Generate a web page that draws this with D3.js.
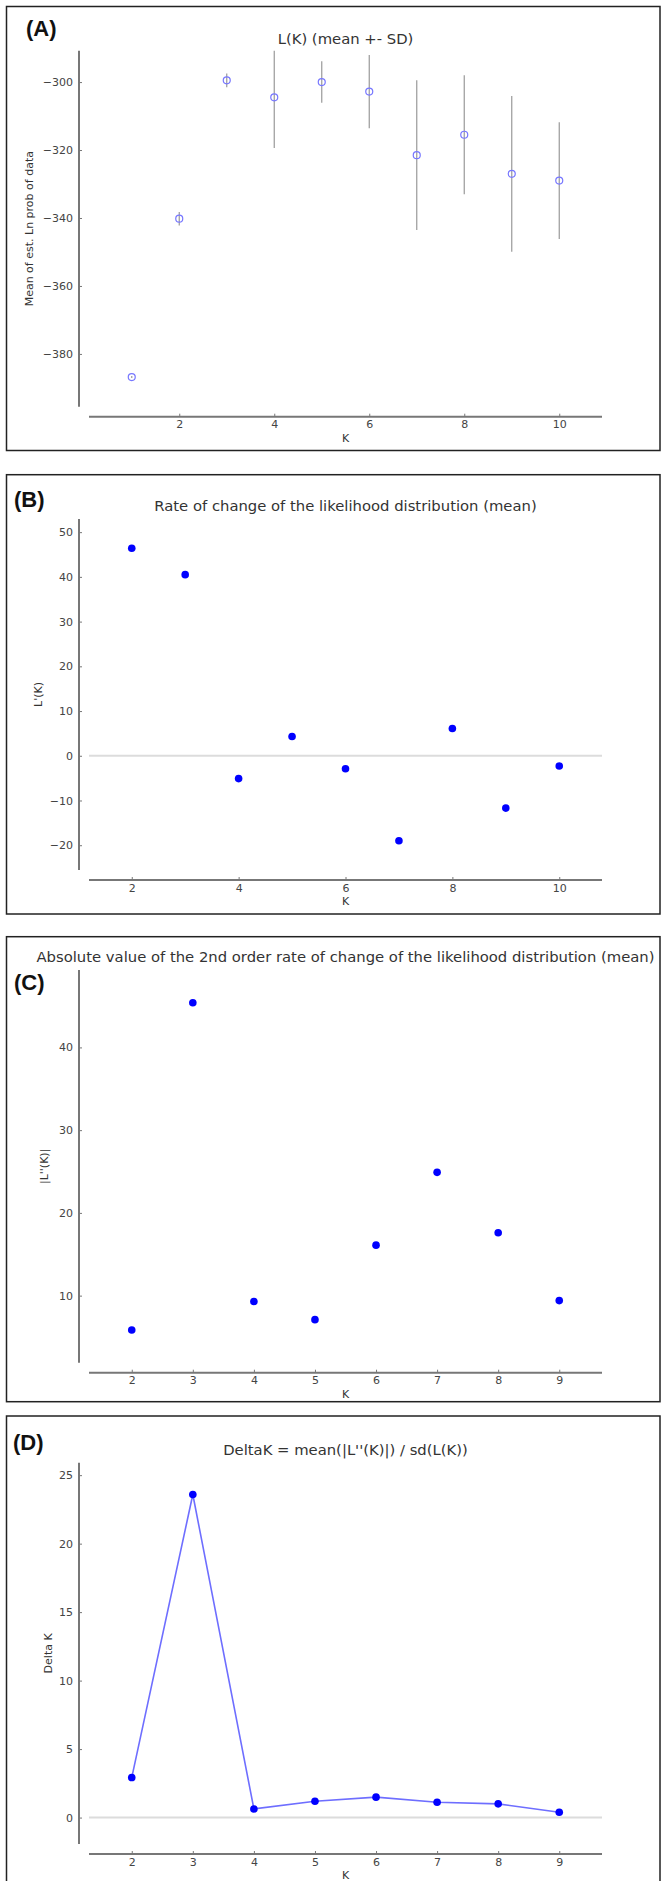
<!DOCTYPE html>
<html>
<head>
<meta charset="utf-8">
<script src="https://d3js.org/d3.v7.min.js"></script>
<style>
  body { margin: 0; background: white; }
  svg text { font-family: "DejaVu Sans", sans-serif; }
</style>
</head>
<body>
<svg id="fig" width="662" height="1881"></svg>
<script>
// ---- data ----
const kA = [1, 2, 3, 4, 5, 6, 7, 8, 9, 10];
const meanLK = [-386.8, -340.2, -299.5, -304.5, -300.0, -302.8, -321.5, -315.5, -327.0, -329.0];
const sdLK = [0.3, 2.0, 2.0, 14.9, 6.1, 10.8, 22.0, 17.5, 22.9, 17.2];

const kB = [2, 3, 4, 5, 6, 7, 8, 9, 10];
const lPrime = [46.4, 40.5, -5.1, 4.3, -2.9, -19.0, 6.1, -11.7, -2.3];

const kC = [2, 3, 4, 5, 6, 7, 8, 9];
const lSecond = [5.85, 45.4, 9.3, 7.1, 16.1, 24.9, 17.6, 9.4];

const kD = [2, 3, 4, 5, 6, 7, 8, 9];
const deltaK = [2.92, 23.59, 0.63, 1.19, 1.49, 1.12, 1.0, 0.39];

const ticksA = [-380, -360, -340, -320, -300];
const ticksB = [-20, -10, 0, 10, 20, 30, 40, 50];
const ticksC = [10, 20, 30, 40];
const ticksD = [0, 5, 10, 15, 20, 25];
const xticksA = [2, 4, 6, 8, 10];
const xticksC = [2, 3, 4, 5, 6, 7, 8, 9];

const svg = d3.select("#fig");

// matplotlib-ish padding: 10% of data range each side
function padded(vals) {
  const lo = d3.min(vals), hi = d3.max(vals), p = (hi - lo) * 0.1;
  return [lo - p, hi + p];
}

function panel(o) {
  const g = svg.append("g");
  // frame
  g.append("rect")
    .attr("x", 6.5).attr("y", o.box[0])
    .attr("width", 653.5).attr("height", o.box[1] - o.box[0])
    .attr("fill", "none").attr("stroke", "#222").attr("stroke-width", 1.5);
  g.append("text")
    .attr("x", o.tagX).attr("y", o.tagY)
    .style("font-family", "'Liberation Sans', Arial, sans-serif")
    .style("font-weight", "bold").style("font-size", "22px")
    .attr("fill", "#111")
    .text(o.tag);

  const x = d3.scaleLinear().domain(padded(o.k)).range([89, 602]);
  const y = d3.scaleLinear().domain(padded(o.vals)).range([o.yr[1], o.yr[0]]);

  // title
  g.append("text")
    .attr("x", 345.5).attr("y", o.titleY)
    .attr("text-anchor", "middle")
    .style("font-size", "14.8px").attr("fill", "#333")
    .text(o.title);

  // zero line
  if (o.zero) {
    g.append("line")
      .attr("x1", 89).attr("x2", 602)
      .attr("y1", y(0)).attr("y2", y(0))
      .attr("stroke", "#dcdcdc").attr("stroke-width", 2);
  }

  // y axis (spine offset left by 10)
  const yAx = g.append("g")
    .attr("transform", `translate(${79},0)`)
    .call(d3.axisLeft(y).tickValues(o.yticks).tickSizeInner(-3).tickSizeOuter(0).tickPadding(6)
      .tickFormat(d => String(d).replace("-", "\u2212")));
  // x axis (spine offset down by 10)
  const xAx = g.append("g")
    .attr("transform", `translate(0,${o.yr[1] + 10})`)
    .call(d3.axisBottom(x).tickValues(o.xticks).tickSizeInner(-3).tickSizeOuter(0).tickPadding(4));

  [yAx, xAx].forEach(a => {
    a.select(".domain").attr("stroke", "#777").attr("stroke-width", 2);
    a.selectAll(".tick line").attr("stroke", "#777");
    a.selectAll(".tick text")
      .style("font-family", "'DejaVu Sans', sans-serif")
      .style("font-size", "11px").attr("fill", "#444");
  });
  yAx.select(".domain").attr("d", `M0,${o.yr[0]}V${o.yr[1]}`);
  xAx.select(".domain").attr("d", `M89,0H602`);

  // axis labels
  g.append("text")
    .attr("transform", `translate(${o.ylabX},${(o.yr[0] + o.yr[1]) / 2}) rotate(-90)`)
    .attr("text-anchor", "middle").attr("dominant-baseline", "central")
    .style("font-size", "11px").attr("fill", "#333")
    .text(o.ylab);
  g.append("text")
    .attr("x", 345.5).attr("y", o.yr[1] + 35)
    .attr("text-anchor", "middle")
    .style("font-size", "11px").attr("fill", "#333")
    .text("K");

  return { g, x, y };
}

// (A)
const A = panel({
  box: [6.5, 450.5], tag: "(A)", tagX: 26, tagY: 36,
  title: "L(K) (mean +- SD)", titleY: 44,
  k: kA, vals: meanLK, yr: [50.7, 406.7], yticks: ticksA, xticks: xticksA,
  ylab: "Mean of est. Ln prob of data", ylabX: 29
});
A.g.append("clipPath").attr("id", "clipA")
  .append("rect").attr("x", 80).attr("y", 50.7).attr("width", 540).attr("height", 356);
const pts = kA.map((k, i) => ({ k, m: meanLK[i], s: sdLK[i] }));
A.g.append("g").attr("clip-path", "url(#clipA)")
  .selectAll("line").data(pts).join("line")
  .attr("x1", d => A.x(d.k)).attr("x2", d => A.x(d.k))
  .attr("y1", d => A.y(d.m - d.s)).attr("y2", d => A.y(d.m + d.s))
  .attr("stroke", "#999").attr("stroke-width", 1.2);
A.g.selectAll("circle").data(pts).join("circle")
  .attr("cx", d => A.x(d.k)).attr("cy", d => A.y(d.m)).attr("r", 3.5)
  .attr("fill", "none").attr("stroke", "#7777ff").attr("stroke-width", 1.2);

// (B)
const B = panel({
  box: [474.7, 914], tag: "(B)", tagX: 14, tagY: 507,
  title: "Rate of change of the likelihood distribution (mean)", titleY: 511,
  k: kB, vals: lPrime, yr: [519, 870], yticks: ticksB, xticks: xticksA,
  ylab: "L'(K)", ylabX: 38, zero: true
});
B.g.selectAll("circle").data(kB).join("circle")
  .attr("cx", d => B.x(d)).attr("cy", (d, i) => B.y(lPrime[i])).attr("r", 3.8)
  .attr("fill", "#0000ff");

// (C)
const C = panel({
  box: [936.7, 1401.7], tag: "(C)", tagX: 14, tagY: 990,
  title: "Absolute value of the 2nd order rate of change of the likelihood distribution (mean)", titleY: 962,
  k: kC, vals: lSecond, yr: [970, 1362.7], yticks: ticksC, xticks: xticksC,
  ylab: "|L''(K)|", ylabX: 44
});
C.g.selectAll("circle").data(kC).join("circle")
  .attr("cx", d => C.x(d)).attr("cy", (d, i) => C.y(lSecond[i])).attr("r", 3.8)
  .attr("fill", "#0000ff");

// (D)
const D = panel({
  box: [1416, 1900], tag: "(D)", tagX: 13, tagY: 1450,
  title: "DeltaK = mean(|L''(K)|) / sd(L(K))", titleY: 1455,
  k: kD, vals: deltaK, yr: [1462.7, 1844], yticks: ticksD, xticks: xticksC,
  ylab: "Delta K", ylabX: 48.5, zero: true
});
D.g.append("path")
  .datum(kD.map((k, i) => [k, deltaK[i]]))
  .attr("d", d3.line().x(d => D.x(d[0])).y(d => D.y(d[1])))
  .attr("fill", "none").attr("stroke", "#6e6eff").attr("stroke-width", 1.6);
D.g.selectAll("circle").data(kD).join("circle")
  .attr("cx", d => D.x(d)).attr("cy", (d, i) => D.y(deltaK[i])).attr("r", 3.8)
  .attr("fill", "#0000ff");
</script>
</body>
</html>
